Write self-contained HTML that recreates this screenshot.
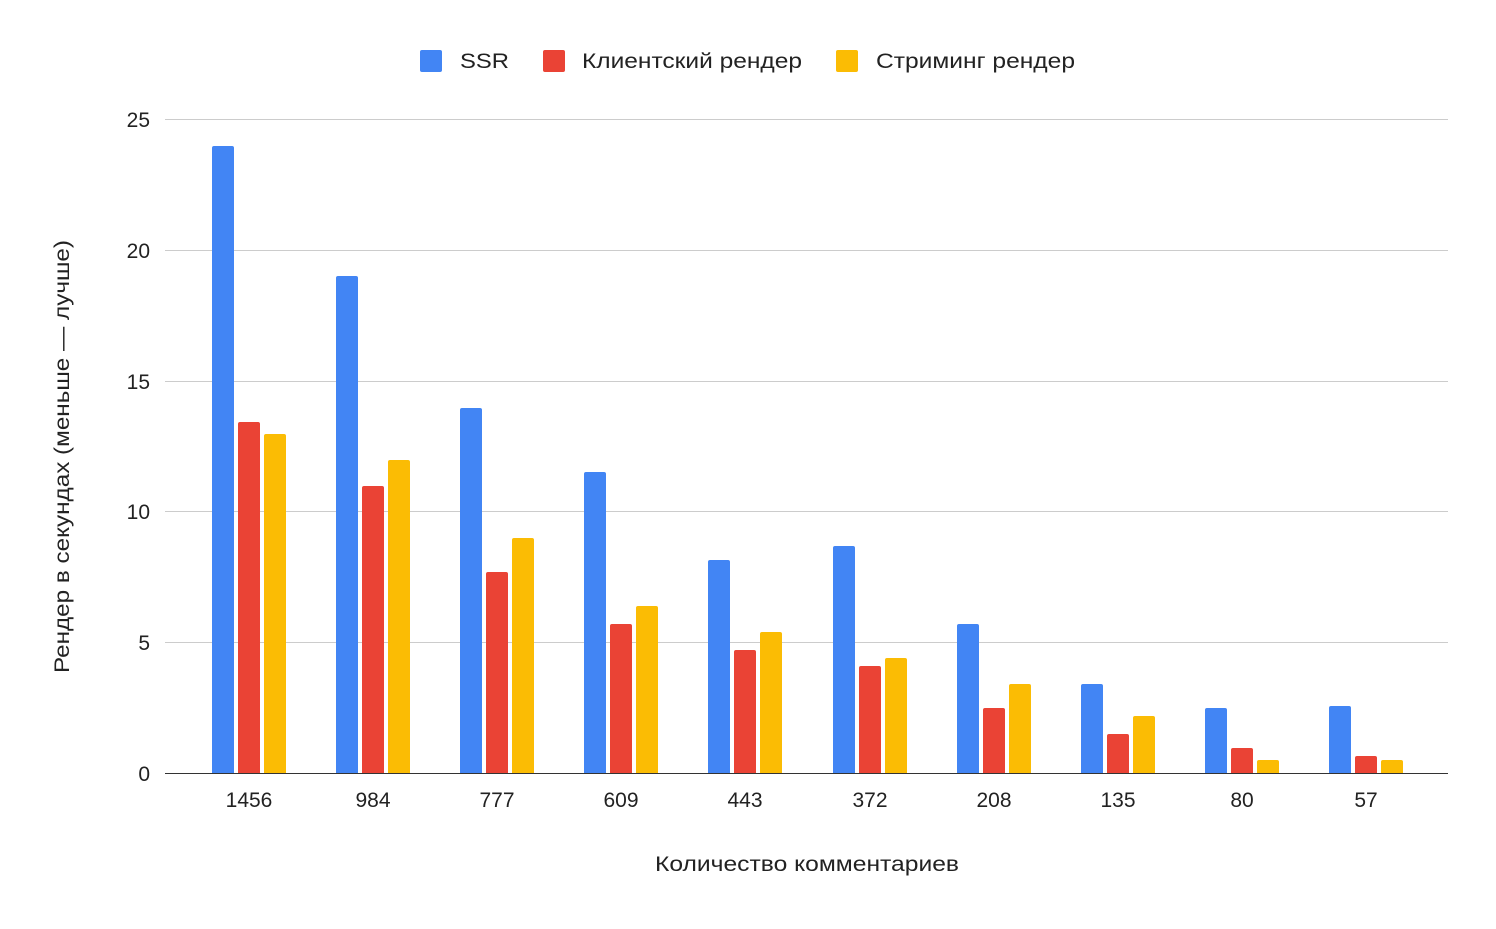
<!DOCTYPE html>
<html><head><meta charset="utf-8"><style>body{margin:0;background:#fff}</style></head><body>
<svg width="1496" height="924" xmlns="http://www.w3.org/2000/svg" font-family="Liberation Sans, DejaVu Sans, sans-serif" font-size="21" fill="#222">
<rect width="1496" height="924" fill="#fff"/>
<g stroke="#ccc" stroke-width="1">
<line x1="165" x2="1448" y1="119.5" y2="119.5"/>
<line x1="165" x2="1448" y1="250.5" y2="250.5"/>
<line x1="165" x2="1448" y1="381.5" y2="381.5"/>
<line x1="165" x2="1448" y1="511.5" y2="511.5"/>
<line x1="165" x2="1448" y1="642.5" y2="642.5"/>
</g>
<g text-anchor="end">
<text x="150" y="127">25</text><text x="150" y="258">20</text><text x="150" y="389">15</text>
<text x="150" y="519">10</text><text x="150" y="650">5</text><text x="150" y="781">0</text>
</g>
<g fill="#4285F4">
<rect x="212" y="146" width="22" height="629" rx="2"/>
<rect x="336" y="276" width="22" height="499" rx="2"/>
<rect x="460" y="408" width="22" height="367" rx="2"/>
<rect x="584" y="472" width="22" height="303" rx="2"/>
<rect x="708" y="560" width="22" height="215" rx="2"/>
<rect x="833" y="546" width="22" height="229" rx="2"/>
<rect x="957" y="624" width="22" height="151" rx="2"/>
<rect x="1081" y="684" width="22" height="91" rx="2"/>
<rect x="1205" y="708" width="22" height="67" rx="2"/>
<rect x="1329" y="706" width="22" height="69" rx="2"/>
</g>
<g fill="#EA4335">
<rect x="238" y="422" width="22" height="353" rx="2"/>
<rect x="362" y="486" width="22" height="289" rx="2"/>
<rect x="486" y="572" width="22" height="203" rx="2"/>
<rect x="610" y="624" width="22" height="151" rx="2"/>
<rect x="734" y="650" width="22" height="125" rx="2"/>
<rect x="859" y="666" width="22" height="109" rx="2"/>
<rect x="983" y="708" width="22" height="67" rx="2"/>
<rect x="1107" y="734" width="22" height="41" rx="2"/>
<rect x="1231" y="748" width="22" height="27" rx="2"/>
<rect x="1355" y="756" width="22" height="19" rx="2"/>
</g>
<g fill="#FBBC04">
<rect x="264" y="434" width="22" height="341" rx="2"/>
<rect x="388" y="460" width="22" height="315" rx="2"/>
<rect x="512" y="538" width="22" height="237" rx="2"/>
<rect x="636" y="606" width="22" height="169" rx="2"/>
<rect x="760" y="632" width="22" height="143" rx="2"/>
<rect x="885" y="658" width="22" height="117" rx="2"/>
<rect x="1009" y="684" width="22" height="91" rx="2"/>
<rect x="1133" y="716" width="22" height="59" rx="2"/>
<rect x="1257" y="760" width="22" height="15" rx="2"/>
<rect x="1381" y="760" width="22" height="15" rx="2"/>
</g>
<rect x="160" y="774" width="1296" height="6" fill="#fff"/>
<line x1="165" x2="1448" y1="773.5" y2="773.5" stroke="#333" stroke-width="1"/>
<g text-anchor="middle">
<text x="249" y="807">1456</text><text x="373" y="807">984</text><text x="497" y="807">777</text>
<text x="621" y="807">609</text><text x="745" y="807">443</text><text x="870" y="807">372</text>
<text x="994" y="807">208</text><text x="1118" y="807">135</text><text x="1242" y="807">80</text>
<text x="1366" y="807">57</text>
</g>
<text x="655" y="871" textLength="304" lengthAdjust="spacingAndGlyphs">Количество комментариев</text>
<text transform="translate(69,673) rotate(-90)" textLength="433" lengthAdjust="spacingAndGlyphs">Рендер в секундах (меньше — лучше)</text>
<rect x="420" y="50" width="22" height="22" rx="2" fill="#4285F4"/><text x="460" y="68" textLength="49" lengthAdjust="spacingAndGlyphs">SSR</text>
<rect x="543" y="50" width="22" height="22" rx="2" fill="#EA4335"/><text x="582" y="68" textLength="220" lengthAdjust="spacingAndGlyphs">Клиентский рендер</text>
<rect x="836" y="50" width="22" height="22" rx="2" fill="#FBBC04"/><text x="876" y="68" textLength="199" lengthAdjust="spacingAndGlyphs">Стриминг рендер</text>
</svg>
</body></html>
